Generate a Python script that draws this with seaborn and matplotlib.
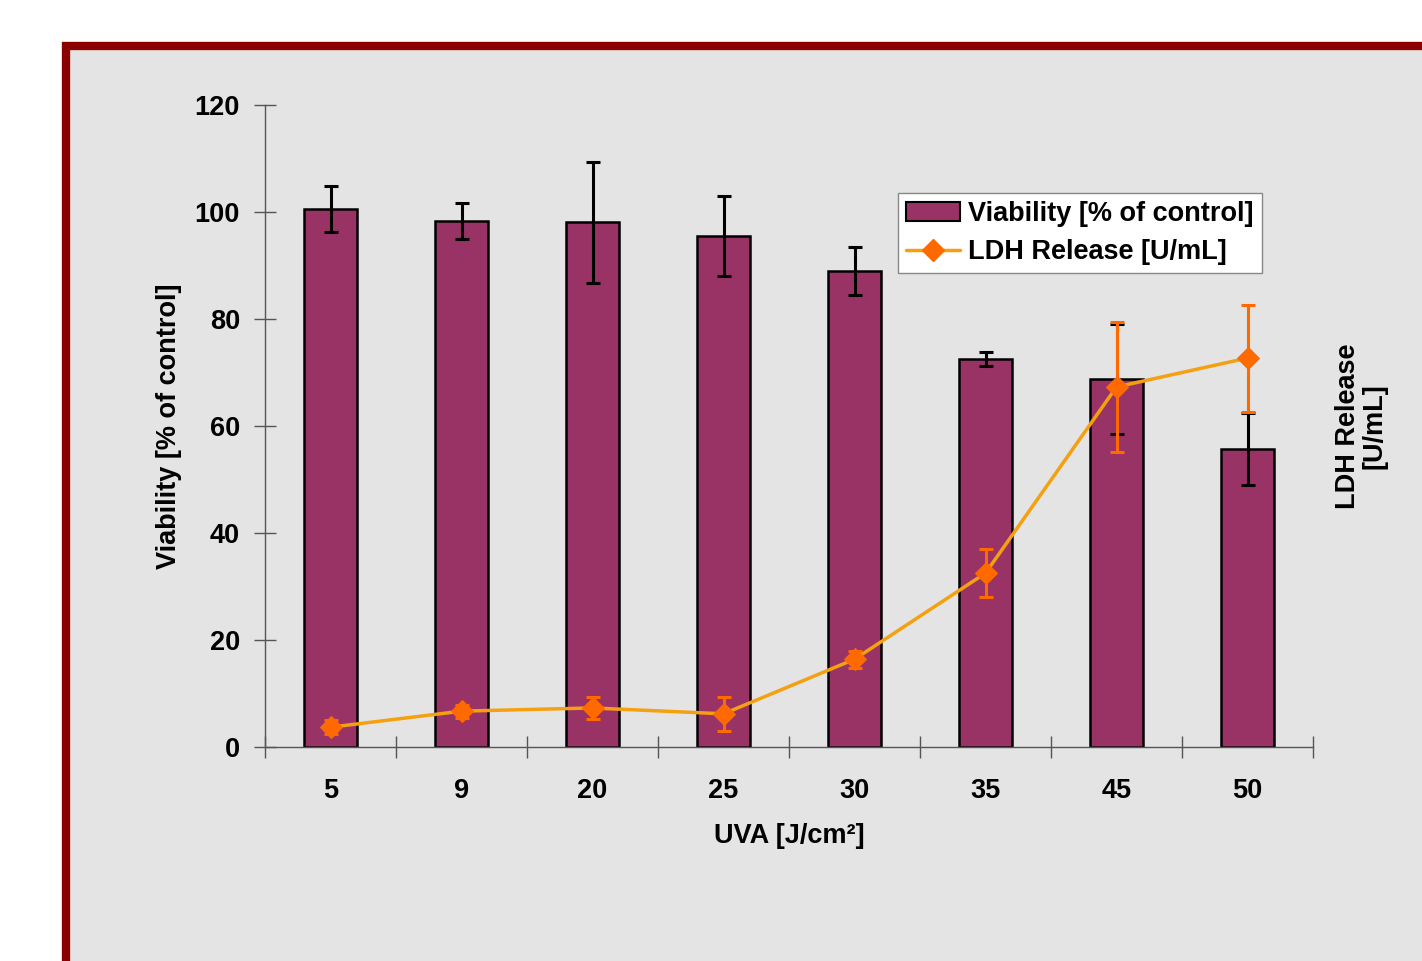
import numpy as np
import seaborn as sns
import matplotlib.pyplot as plt
from matplotlib.patches import Rectangle, Patch
from matplotlib.lines import Line2D

# datos
uva = ['5', '9', '20', '25', '30', '35', '45', '50']
viability = [100.6, 98.3, 98.1, 95.5, 89.0, 72.5, 68.8, 55.7]
viability_err = [4.3, 3.3, 11.3, 7.5, 4.5, 1.3, 10.3, 6.8]
ldh = [3.7, 6.7, 7.3, 6.2, 16.4, 32.5, 67.3, 72.7]
ldh_err = [1.3, 1.2, 2.1, 3.2, 1.6, 4.5, 12.1, 10.0]

sns.set_style('white')
plt.rcParams['font.family'] = ['Liberation Sans', 'DejaVu Sans']
plt.rcParams['font.weight'] = 'bold'
plt.rcParams['axes.labelweight'] = 'bold'
plt.rcParams['text.color'] = 'black'
plt.rcParams['axes.labelcolor'] = 'black'
plt.rcParams['xtick.color'] = 'black'
plt.rcParams['ytick.color'] = 'black'

fs = 19.5

fig = plt.figure(figsize=(14.22, 9.61), dpi=100, facecolor='white')

# marco rojo con fondo gris
fig.patches.append(Rectangle((66 / 1422, -0.2), 1.2, 0.2 + (1 - 46 / 961),
                             transform=fig.transFigure, facecolor='#e4e4e4',
                             edgecolor='#8b0000', linewidth=6, zorder=-10))

ax = fig.add_axes([265 / 1422, 1 - 747 / 961, 1048 / 1422, 642 / 961])
ax.set_facecolor('none')
pos = np.arange(len(uva))

sns.barplot(x=uva, y=viability, color='#993366', edgecolor='black', linewidth=1.8,
            width=0.4, saturation=1, ax=ax)
ax.errorbar(pos, viability, yerr=viability_err, fmt='none', ecolor='black',
            elinewidth=2.2, capsize=5, capthick=2.2, zorder=5)

ax.set_xlim(-0.5, len(uva) - 0.5)
ax.set_ylim(0, 120)
ax.set_yticks(np.arange(0, 121, 20))
ax.set_xticks(pos)
ax.set_xticks(np.arange(-0.5, len(uva), 1), minor=True)
ax.tick_params(axis='y', left=True, direction='inout', length=16, width=1,
               color='#555555', labelsize=fs, pad=10)
ax.tick_params(axis='x', which='major', length=0, labelsize=fs, pad=22)
ax.tick_params(axis='x', which='minor', bottom=True, direction='inout', length=16,
               width=1, color='#555555')
for s in ['top', 'right']:
    ax.spines[s].set_visible(False)
for s in ['left', 'bottom']:
    ax.spines[s].set_color('#555555')
    ax.spines[s].set_linewidth(1)
ax.set_xlabel('UVA [J/cm²]', fontsize=fs, labelpad=14)
ax.set_ylabel('Viability [% of control]', fontsize=fs, labelpad=9)

# LDH en eje secundario
ax2 = ax.twinx()
ax2.set_ylim(0, 120)
ax2.errorbar(pos, ldh, yerr=ldh_err, fmt='none', ecolor='#ff6a00',
             elinewidth=2.2, capsize=5, capthick=2.2, zorder=3)
sns.lineplot(x=pos, y=ldh, color='#f5a010', linewidth=2.5, marker='D',
             markersize=11, markerfacecolor='#ff6a00', markeredgecolor='#ff6a00',
             ax=ax2, zorder=4)
ax2.set_yticks([])
for s in ax2.spines.values():
    s.set_visible(False)
ax2.set_ylabel('LDH Release\n[U/mL]', fontsize=fs, labelpad=16, linespacing=1.0)

handles = [Patch(facecolor='#993366', edgecolor='black', linewidth=1.5),
           Line2D([0], [0], color='#f5a010', linewidth=2.5, marker='D', markersize=11,
                  markerfacecolor='#ff6a00', markeredgecolor='#ff6a00')]
leg = ax2.legend(handles, ['Viability [% of control]', 'LDH Release [U/mL]'],
                 loc='upper left', bbox_to_anchor=(0.604, 0.863), borderaxespad=0,
                 fontsize=fs, frameon=True, fancybox=False, edgecolor='#888888',
                 framealpha=1, handlelength=2.0, handletextpad=0.3,
                 borderpad=0.3, labelspacing=0.45)
leg.get_frame().set_linewidth(1)

fig.savefig('out.png', dpi=100, facecolor='white')
